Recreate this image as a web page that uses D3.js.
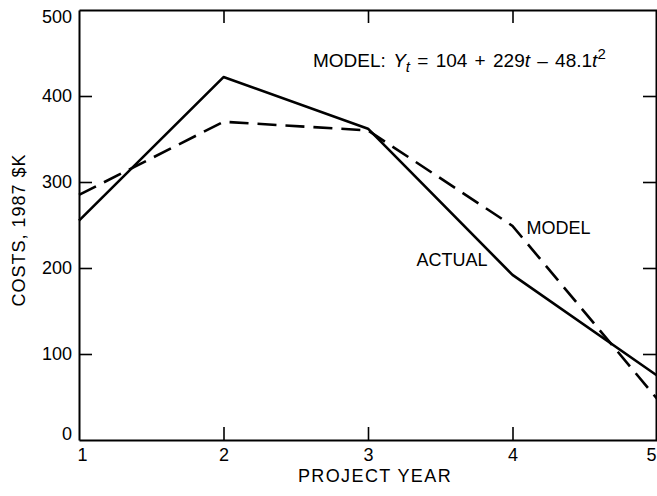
<!DOCTYPE html>
<html>
<head>
<meta charset="utf-8">
<script src="https://cdn.jsdelivr.net/npm/d3@7"></script>
<style>
  body { margin: 0; background: #fff; }
  svg { display: block; font-family: "Liberation Sans", Arial, sans-serif; }
</style>
</head>
<body>
<svg id="chart" width="657" height="496"></svg>
<script>
// values
const years = [1, 2, 3, 4, 5];
const actualCosts = [255, 422, 362, 192, 75];
const modelCosts = [285, 370, 360, 249, 48];
const yTicks = [0, 100, 200, 300, 400, 500];
const innerTicks = [100, 200, 300, 400];
const midYears = [2, 3, 4];

const plotLeft = 79, plotRight = 657, plotTop = 10, plotBottom = 440;

const svg = d3.select("#chart");

const x = d3.scaleLinear().domain([1, 5]).range([plotLeft, plotRight]);
const y = d3.scaleLinear().domain([0, 500]).range([plotBottom, plotTop]);

// axes, ticks pointing inward
const styleAxis = (g) => {
    g.selectAll("path.domain").attr("stroke", "#000").attr("stroke-width", 2);
    g.selectAll(".tick line").attr("stroke", "#000").attr("stroke-width", 1.6);
    g.selectAll("text").attr("fill", "#000");
    g.attr("font-family", null);
};

const xAxis = svg.append("g")
    .attr("transform", `translate(0,${plotBottom})`)
    .call(d3.axisBottom(x).tickValues(years).tickSizeInner(-13).tickSizeOuter(0).tickPadding(8).tickFormat(d3.format("d")))
    .attr("font-size", 18);
styleAxis(xAxis);
xAxis.selectAll(".tick").filter(d => d === 1 || d === 5).select("line").remove();
xAxis.selectAll(".tick").filter(d => d === 1).select("text").attr("dx", 3);
xAxis.selectAll(".tick").filter(d => d === 5).select("text").attr("dx", -6);

const yAxis = svg.append("g")
    .attr("transform", `translate(${plotLeft},0)`)
    .call(d3.axisLeft(y).tickValues(yTicks).tickSizeInner(-13).tickSizeOuter(0).tickPadding(7))
    .attr("font-size", 18);
styleAxis(yAxis);
yAxis.selectAll(".tick").filter(d => d === 0 || d === 500).select("line").remove();
// keep the end labels inside the frame, as in the print
yAxis.selectAll(".tick").filter(d => d === 0).select("text").attr("dy", "-0.02em");
yAxis.selectAll(".tick").filter(d => d === 500).select("text").attr("dy", "0.7em");

const topAxis = svg.append("g")
    .attr("transform", `translate(0,${plotTop})`)
    .call(d3.axisTop(x).tickValues(midYears).tickSizeInner(-13).tickSizeOuter(0).tickFormat(""));
styleAxis(topAxis);

const rightAxis = svg.append("g")
    .attr("transform", `translate(${plotRight - 1},0)`)
    .call(d3.axisRight(y).tickValues(innerTicks).tickSizeInner(-13).tickSizeOuter(0).tickFormat(""));
styleAxis(rightAxis);

// axis titles
svg.append("text")
    .attr("x", (plotLeft + plotRight) / 2 + 7)
    .attr("y", 482)
    .attr("text-anchor", "middle")
    .attr("font-size", 18)
    .attr("letter-spacing", 1.4)
    .text("PROJECT YEAR");

svg.append("text")
    .attr("transform", `translate(25,${(plotTop + plotBottom) / 2 + 5}) rotate(-90)`)
    .attr("text-anchor", "middle")
    .attr("font-size", 18)
    .attr("letter-spacing", 1)
    .text("COSTS, 1987 $K");

// series
const line = d3.line()
    .x((d, i) => x(years[i]))
    .y(d => y(d));

svg.append("path")
    .datum(modelCosts)
    .attr("d", line)
    .attr("fill", "none")
    .attr("stroke", "#000")
    .attr("stroke-width", 2.6)
    .attr("stroke-dasharray", "19,9");

svg.append("path")
    .datum(actualCosts)
    .attr("d", line)
    .attr("fill", "none")
    .attr("stroke", "#000")
    .attr("stroke-width", 2.6)
    .attr("stroke-linejoin", "round");

// series labels
svg.append("text")
    .attr("x", x(4) + 14)
    .attr("y", y(modelCosts[3]) + 8)
    .attr("font-size", 18)
    .text("MODEL");

svg.append("text")
    .attr("x", x(4) - 25)
    .attr("y", y(actualCosts[3]) - 9)
    .attr("text-anchor", "end")
    .attr("font-size", 18)
    .text("ACTUAL");

// model equation
const eq = svg.append("text")
    .attr("x", 313)
    .attr("y", 67)
    .attr("font-size", 19)
    .attr("word-spacing", 2);
eq.append("tspan").text("MODEL: ");
eq.append("tspan").attr("font-style", "italic").text("Y");
eq.append("tspan").attr("font-style", "italic").attr("font-size", 15).attr("dy", 5).text("t");
eq.append("tspan").attr("dy", -5).text(" = 104 + 229");
eq.append("tspan").attr("font-style", "italic").text("t");
eq.append("tspan").text(" \u2013 48.1");
eq.append("tspan").attr("font-style", "italic").text("t");
eq.append("tspan").attr("font-size", 15).attr("dy", -8).text("2");
</script>
</body>
</html>
